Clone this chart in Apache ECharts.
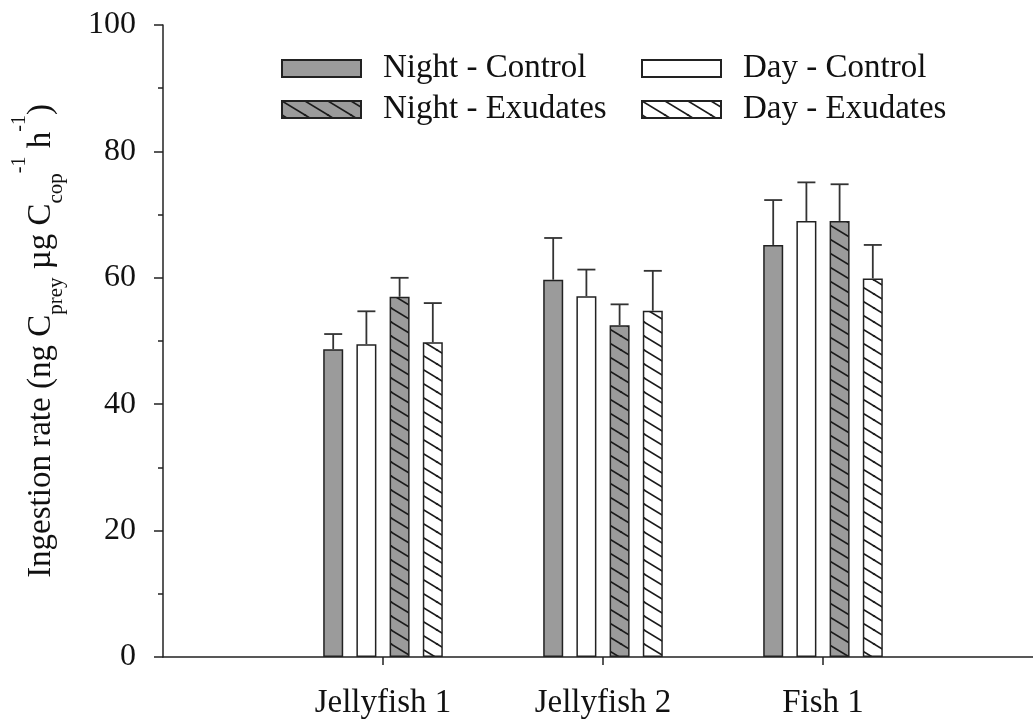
<!DOCTYPE html>
<html>
<head>
<meta charset="utf-8">
<script src="https://cdn.jsdelivr.net/npm/echarts@6/dist/echarts.min.js"></script>
<style>
  html, body { margin: 0; padding: 0; background: #fff; }
  #chart { width: 1033px; height: 722px; }
</style>
</head>
<body>
<div id="chart"></div>
<script>
// Categories (empty slots at both ends keep the groups away from the axis ends)
const categories = ['', 'Jellyfish 1', 'Jellyfish 2', 'Fish 1', ''];

// Mean ingestion rates and their standard errors per treatment
const nightControl     = [null, 48.7, 59.7, 65.2, null];
const nightControlErr  = [null, 2.4, 6.6, 7.1, null];
const dayControl       = [null, 49.5, 57.1, 69.0, null];
const dayControlErr    = [null, 5.2, 4.2, 6.1, null];
const nightExudates    = [null, 57.0, 52.5, 69.0, null];
const nightExudatesErr = [null, 3.0, 3.3, 5.8, null];
const dayExudates      = [null, 49.8, 54.8, 59.9, null];
const dayExudatesErr   = [null, 6.2, 6.3, 5.3, null];

const seriesNames = ['Night - Control', 'Day - Control', 'Night - Exudates', 'Day - Exudates'];
const yTicks = [0, 20, 40, 60, 80, 100];

const FONT = '"Liberation Serif", "Times New Roman", serif';
const GRAY = '#9b9b9b';
const INK = '#222';
const BAR_W = 20;
const BAR_GAP = 0.66;

// Diagonal hatch pattern ("\" direction) on a given background
function hatch(bg) {
  const w = 23, h = 14;
  const c = document.createElement('canvas');
  c.width = w; c.height = h;
  const ctx = c.getContext('2d');
  ctx.fillStyle = bg;
  ctx.fillRect(0, 0, w, h);
  ctx.strokeStyle = '#1a1a1a';
  ctx.lineWidth = 1.6;
  for (const [ox, oy] of [[0, 0], [w, 0], [-w, 0], [0, h], [0, -h]]) {
    ctx.beginPath();
    ctx.moveTo(ox - w, oy - h);
    ctx.lineTo(ox + 2 * w, oy + 2 * h);
    ctx.stroke();
  }
  return { image: c, repeat: 'repeat' };
}

const fills = [GRAY, '#ffffff', hatch(GRAY), hatch('#ffffff')];
const values = [nightControl, dayControl, nightExudates, dayExudates];
const errors = [nightControlErr, dayControlErr, nightExudatesErr, dayExudatesErr];

const barSeries = seriesNames.map((name, k) => ({
  name,
  type: 'bar',
  data: values[k],
  barWidth: BAR_W,
  barGap: (BAR_GAP * 100) + '%',
  itemStyle: { color: fills[k], borderColor: INK, borderWidth: 1.5 },
  emphasis: { disabled: true },
  z: 2
}));

// Upper error whiskers, offset to sit on each bar of the group
const errSeries = seriesNames.map((name, k) => {
  const pts = [];
  values[k].forEach((v, i) => { if (v != null) pts.push([i, v, errors[k][i]]); });
  return {
    type: 'custom',
    name: name + ' SE',
    z: 3,
    silent: true,
    dimensions: ['x', 'y', 'err'],
    data: pts,
    encode: { x: 0, y: 1 },
    renderItem: function (params, api) {
      const i = api.value(0), v = api.value(1), e = api.value(2);
      const dx = (k - 1.5) * BAR_W * (1 + BAR_GAP);
      const p0 = api.coord([i, v]);
      const p1 = api.coord([i, v + e]);
      const x = p0[0] + dx;
      const style = { stroke: '#333', lineWidth: 1.8 };
      return {
        type: 'group',
        children: [
          { type: 'line', shape: { x1: x, y1: p0[1], x2: x, y2: p1[1] }, style },
          { type: 'line', shape: { x1: x - 9, y1: p1[1], x2: x + 9, y2: p1[1] }, style }
        ]
      };
    }
  };
});

const chart = echarts.init(document.getElementById('chart'), null, { renderer: 'canvas' });
chart.setOption({
  animation: false,
  backgroundColor: '#fff',
  grid: { left: 163, width: 880, top: 25, bottom: 65, containLabel: false, outerBoundsMode: 'none' },
  legend: {
    data: seriesNames,
    left: 281,
    top: 52,
    width: 720,
    padding: 0,
    itemWidth: 79,
    itemHeight: 17,
    itemGap: 8,
    icon: 'rect',
    selectedMode: false,
    textStyle: {
      fontFamily: FONT, fontSize: 33, color: '#111',
      width: 250, lineHeight: 29, padding: [0, 0, 0, 17]
    }
  },
  xAxis: {
    type: 'category',
    data: categories,
    boundaryGap: false,
    axisLine: { lineStyle: { color: INK, width: 1.5 } },
    axisTick: { length: 8, lineStyle: { color: INK, width: 1.5 }, interval: (idx, val) => val !== '' },
    axisLabel: { fontFamily: FONT, fontSize: 33, color: '#111', margin: 30, interval: 0 },
    splitLine: { show: false }
  },
  yAxis: {
    type: 'value',
    min: yTicks[0],
    max: yTicks[yTicks.length - 1],
    interval: yTicks[1] - yTicks[0],
    axisLine: { show: true, lineStyle: { color: INK, width: 1.5 } },
    axisTick: { show: true, length: 9, lineStyle: { color: INK, width: 1.5 } },
    minorTick: { show: true, splitNumber: 2, length: 5, lineStyle: { color: INK, width: 1.5 } },
    axisLabel: { fontFamily: FONT, fontSize: 32, color: '#111', margin: 27 },
    splitLine: { show: false },
    name: 'Ingestion rate (ng C{sub|prey} \u00b5g C{sub|cop}{sup|-1} h{sup|-1})',
    nameLocation: 'middle',
    nameRotate: 90,
    nameGap: 91,
    nameTextStyle: {
      fontFamily: FONT, fontSize: 33, color: '#111', lineHeight: 62,
      rich: {
        sub: { fontFamily: FONT, fontSize: 21, color: '#111', verticalAlign: 'bottom', lineHeight: 32, padding: [0, 0, 5, 0] },
        sup: { fontFamily: FONT, fontSize: 20, color: '#111', verticalAlign: 'top', lineHeight: 22 }
      }
    }
  },
  series: barSeries.concat(errSeries)
});
</script>
</body>
</html>
